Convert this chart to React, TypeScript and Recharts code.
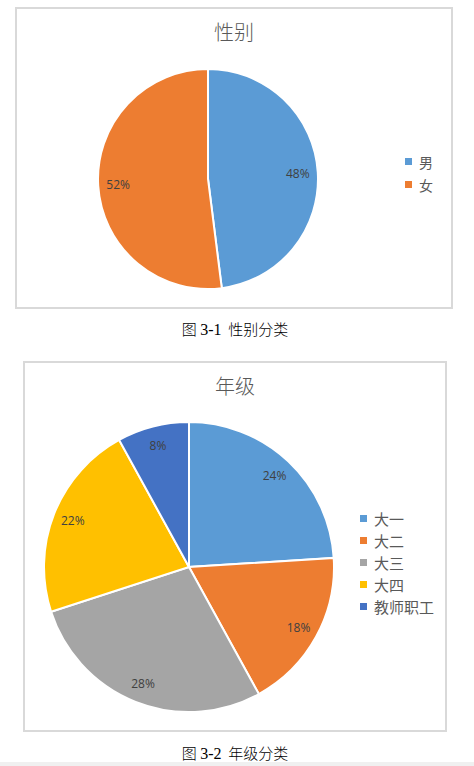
import React from 'react';
import { PieChart, Pie, Cell, Legend } from 'recharts';

// 图 3-1 性别
const genderNames = ['男', '女'];
const genderValues = [48, 52];

// 图 3-2 年级
const gradeNames = ['大一', '大二', '大三', '大四', '教师职工'];
const gradeValues = [24, 18, 28, 22, 8];

const COLORS = ['#5B9BD5', '#ED7D31', '#A5A5A5', '#FFC000', '#4472C4'];
const RADIAN = Math.PI / 180;
const CJK = '"Noto Sans CJK SC", "Noto Sans", sans-serif';

const toRows = (names: string[], values: number[]) =>
  names.map((name, i) => ({ name, value: values[i] }));

const genderData = toRows(genderNames, genderValues);
const gradeData = toRows(gradeNames, gradeValues);

const renderLabel = (props: any) => {
  const { cx, cy, midAngle, outerRadius, percent } = props;
  const r = outerRadius - 20;
  const x = cx + r * Math.cos(-midAngle * RADIAN);
  const y = cy + r * Math.sin(-midAngle * RADIAN);
  return (
    <text
      x={x}
      y={y}
      fill="#404040"
      fontSize={12}
      fontFamily='"Open Sans", "Liberation Sans", sans-serif'
      textAnchor="middle"
      dominantBaseline="central"
    >
      {`${Math.round(percent * 100)}%`}
    </text>
  );
};

// legend keeps the data order (recharts would sort it by name otherwise)
const makeLegend = (names: string[], fontSize: number, gap: number) => () => (
  <div>
    {names.map((name, i) => (
      <div
        key={name}
        style={{ display: 'flex', alignItems: 'center', height: gap, fontFamily: CJK, fontSize, color: '#595959' }}
      >
        <span style={{ width: 7, height: 7, background: COLORS[i], marginRight: 7, display: 'inline-block' }} />
        {name}
      </div>
    ))}
  </div>
);

type BoxProps = {
  left: number;
  top: number;
  width: number;
  height: number;
  title: string;
  titleY: number;
  data: { name: string; value: number }[];
  cx: number;
  cy: number;
  radius: number;
  legendLeft: number;
  legendTop: number;
  legendFont: number;
  legendGap: number;
};

const ChartBox = (p: BoxProps) => (
  <div style={{ position: 'absolute', left: p.left, top: p.top, width: p.width, height: p.height }}>
    <div
      style={{
        position: 'absolute',
        inset: 0,
        border: '2px solid #d9d9d9',
        boxSizing: 'border-box',
      }}
    />
    <div
      style={{
        position: 'absolute',
        left: 0,
        width: p.width,
        top: p.titleY - 14,
        textAlign: 'center',
        fontFamily: CJK,
        fontSize: 20,
        lineHeight: '28px',
        color: '#595959',
        fontWeight: 300,
      }}
    >
      {p.title}
    </div>
    <div style={{ position: 'absolute', left: 0, top: 0 }}>
      <PieChart width={p.width} height={p.height} margin={{ top: 0, right: 0, bottom: 0, left: 0 }}>
        <Pie
          data={p.data}
          dataKey="value"
          nameKey="name"
          cx={p.cx}
          cy={p.cy}
          outerRadius={p.radius}
          startAngle={90}
          endAngle={-270}
          stroke="#ffffff"
          strokeWidth={2}
          label={renderLabel}
          labelLine={false}
          isAnimationActive={false}
        >
          {p.data.map((d, i) => (
            <Cell key={d.name} fill={COLORS[i]} />
          ))}
        </Pie>
        <Legend
          layout="vertical"
          align="right"
          verticalAlign="middle"
          content={makeLegend(p.data.map((d) => d.name), p.legendFont, p.legendGap)}
          wrapperStyle={{ left: p.legendLeft, top: p.legendTop, right: 'auto', width: 100 }}
        />
      </PieChart>
    </div>
  </div>
);

const Caption = ({ top, num, text }: { top: number; num: string; text: string }) => (
  <div
    style={{
      position: 'absolute',
      left: 0,
      width: 470,
      top,
      textAlign: 'center',
      fontSize: 15,
      lineHeight: '18px',
      color: '#000',
      whiteSpace: 'pre',
      fontWeight: 300,
      fontFamily: '"Noto Sans CJK SC", sans-serif',
    }}
  >
    {'图 '}
    <span style={{ fontFamily: '"Liberation Serif", serif', fontSize: 16, fontWeight: 400 }}>{num}</span>
    {'  ' + text}
  </div>
);

export default function App() {
  return (
    <div style={{ position: 'absolute', left: 0, top: 0, width: 474, height: 766, background: '#fff', overflow: 'hidden' }}>
      <ChartBox
        left={15}
        top={7}
        width={438}
        height={302}
        title="性别"
        titleY={25}
        data={genderData}
        cx={193}
        cy={172}
        radius={110}
        legendLeft={390}
        legendTop={143}
        legendFont={14}
        legendGap={23}
      />
      <Caption top={320} num="3-1" text="性别分类" />
      <ChartBox
        left={23}
        top={361}
        width={424}
        height={371}
        title="年级"
        titleY={25}
        data={gradeData}
        cx={166}
        cy={206}
        radius={145}
        legendLeft={337}
        legendTop={146}
        legendFont={15}
        legendGap={22}
      />
      <Caption top={744} num="3-2" text="年级分类" />
      <div style={{ position: 'absolute', left: 0, top: 762, width: 474, height: 4, background: '#f0f0f0' }} />
    </div>
  );
}
